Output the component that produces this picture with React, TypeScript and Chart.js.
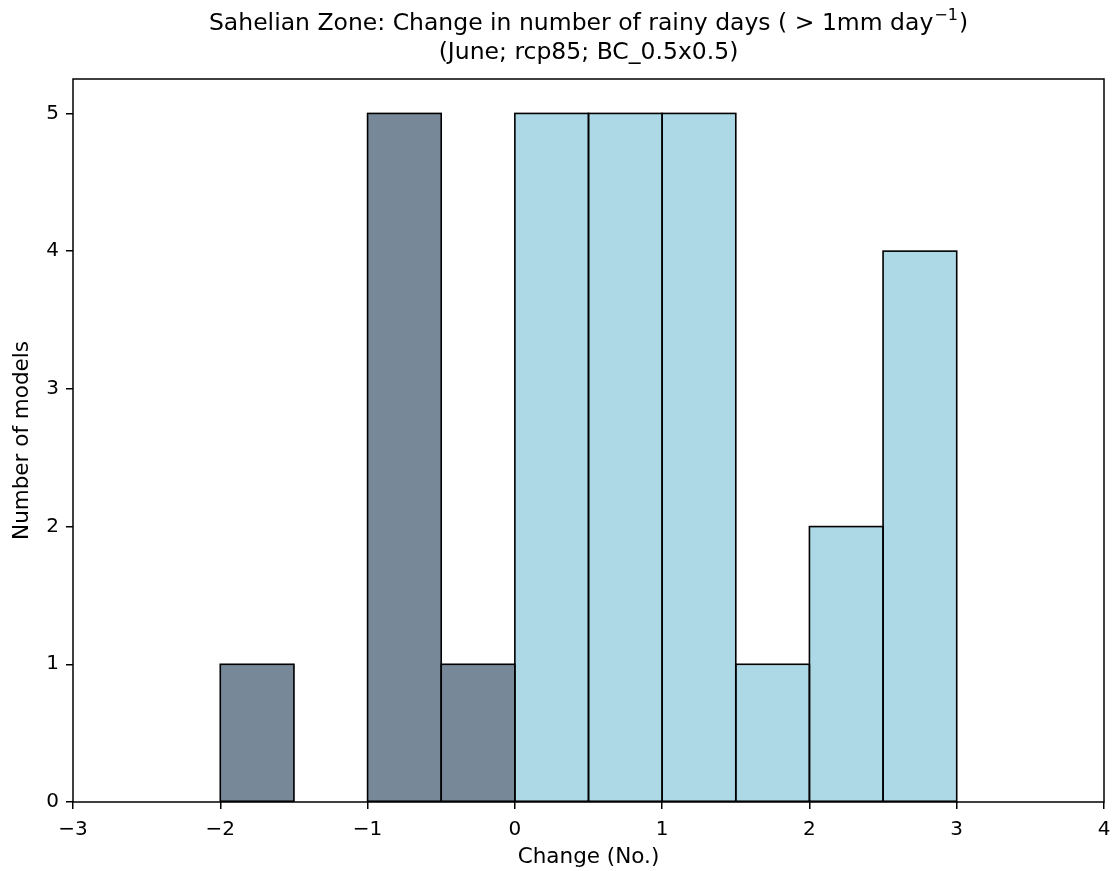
import React, { useEffect, useRef } from 'react';
import { Chart, registerables } from 'chart.js';

Chart.register(...registerables);

// ---- data ----
const binStarts = [-2, -1, -0.5, 0, 0.5, 1, 1.5, 2, 2.5];
const binWidth = 0.5;
const counts = [1, 5, 1, 5, 5, 5, 1, 2, 4];
const xMin = -3;
const xMax = 4;
const yMin = 0;
const yMax = 5.25;
const negColor = '#778899';
const posColor = '#ADD8E6';
const titleMain = 'Sahelian Zone: Change in number of rainy days ( > 1mm day';
const titleSup = '\u22121';
const titleEnd = ')';
const titleLine2 = '(June; rcp85; BC_0.5x0.5)';
const xLabel = 'Change (No.)';
const yLabel = 'Number of models';

const FONT = 'DejaVu Sans';
const W = 1114;
const H = 871;

export default function App() {
  const ref = useRef<HTMLCanvasElement | null>(null);

  useEffect(() => {
    if (!ref.current) return;
    const points = binStarts.map((s, i) => ({ x: s + binWidth / 2, y: counts[i] }));
    const colors = binStarts.map((s) => (s < 0 ? negColor : posColor));

    const outlinePlugin = {
      id: 'outline',
      afterDatasetsDraw(chart: any) {
        const ctx = chart.ctx;
        const meta = chart.getDatasetMeta(0);
        ctx.save();
        ctx.strokeStyle = '#000';
        ctx.lineWidth = 1.6;
        meta.data.forEach((bar: any) => {
          const p = bar.getProps(['x', 'y', 'base', 'width'], true);
          ctx.strokeRect(p.x - p.width / 2, p.y, p.width, p.base - p.y);
        });
        ctx.restore();
      },
    };

    const framePlugin = {
      id: 'frame',
      afterDraw(chart: any) {
        const ctx = chart.ctx;
        const a = chart.chartArea;
        ctx.save();
        ctx.strokeStyle = '#000';
        ctx.lineWidth = 1.5;
        ctx.strokeRect(a.left, a.top, a.right - a.left, a.bottom - a.top);
        // title
        ctx.fillStyle = '#000';
        ctx.textBaseline = 'middle';
        ctx.textAlign = 'left';
        const size = 23.5;
        const supSize = 16;
        const cx = (a.left + a.right) / 2;
        ctx.font = `${size}px "${FONT}"`;
        const w1 = ctx.measureText(titleMain).width;
        const w3 = ctx.measureText(titleEnd).width;
        ctx.font = `${supSize}px "${FONT}"`;
        const w2 = ctx.measureText(titleSup).width;
        const total = w1 + w2 + w3 + 2;
        let x = cx - total / 2;
        const y1 = 24;
        ctx.font = `${size}px "${FONT}"`;
        ctx.fillText(titleMain, x, y1);
        x += w1 + 1;
        ctx.font = `${supSize}px "${FONT}"`;
        ctx.fillText(titleSup, x, y1 - 8);
        x += w2 + 1;
        ctx.font = `${size}px "${FONT}"`;
        ctx.fillText(titleEnd, x, y1);
        ctx.textAlign = 'center';
        ctx.fillText(titleLine2, cx, 53);
        ctx.restore();
      },
    };

    const tickFont = { family: FONT, size: 20 };
    const labelFont = { family: FONT, size: 21.5 };

    const chart = new Chart(ref.current, {
      type: 'bar',
      data: {
        datasets: [
          {
            data: points as any,
            backgroundColor: colors,
            borderWidth: 0,
            barPercentage: 1,
            categoryPercentage: 1,
          },
        ],
      },
      options: {
        animation: false,
        responsive: false,
        devicePixelRatio: 1,
        layout: { padding: { top: 79, right: 10, left: 0, bottom: 0 } },
        plugins: {
          legend: { display: false },
          tooltip: { enabled: false },
          title: { display: false },
        },
        scales: {
          x: {
            type: 'linear',
            min: xMin,
            max: xMax,
            offset: false,
            grid: {
              offset: false,
              display: true,
              drawOnChartArea: false,
              drawTicks: true,
              tickLength: 7,
              color: '#000',
              lineWidth: 1.5,
            },
            border: { display: false },
            ticks: {
              stepSize: 1,
              includeBounds: false,
              color: '#000',
              font: tickFont,
              padding: 9,
              maxRotation: 0,
              callback: (v: any) => String(v).replace('-', '\u2212'),
            },
            title: {
              display: true,
              text: xLabel,
              color: '#000',
              font: labelFont,
              padding: { top: 0, bottom: 1 },
            },
            afterFit: (s: any) => {
              s.height = H - 802;
              s.paddingLeft = 0;
              s.paddingRight = 0;
            },
          },
          y: {
            type: 'linear',
            min: yMin,
            max: yMax,
            grid: {
              display: true,
              drawOnChartArea: false,
              drawTicks: true,
              tickLength: 7,
              color: '#000',
              lineWidth: 1.5,
            },
            border: { display: false },
            ticks: {
              stepSize: 1,
              includeBounds: false,
              color: '#000',
              font: tickFont,
              padding: 7,
            },
            title: {
              display: true,
              text: yLabel,
              color: '#000',
              font: labelFont,
              padding: { top: 10, bottom: 0 },
            },
            afterFit: (s: any) => {
              s.width = 73;
              s.paddingTop = 0;
              s.paddingBottom = 0;
            },
          },
        },
      },
      plugins: [outlinePlugin, framePlugin],
    } as any);

    return () => chart.destroy();
  }, []);

  return (
    <div style={{ position: 'fixed', left: 0, top: 0, width: W, height: H, background: '#fff' }}>
      <canvas ref={ref} width={W} height={H} style={{ width: W, height: H, display: 'block' }} />
    </div>
  );
}
